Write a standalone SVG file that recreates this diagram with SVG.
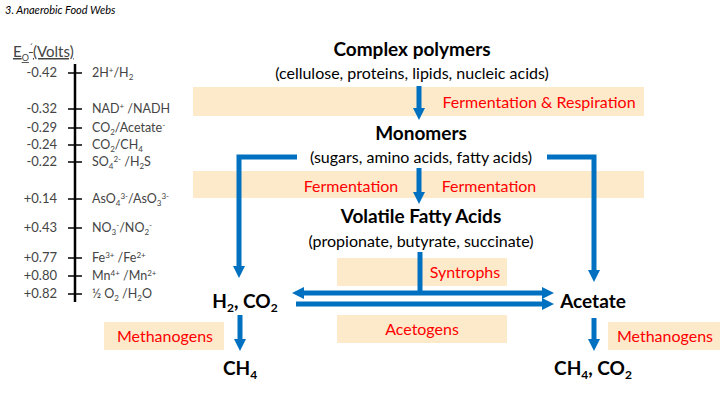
<svg xmlns="http://www.w3.org/2000/svg" width="722" height="407" viewBox="0 0 722 407">
<style>
text{font-family:Lato,"Liberation Sans",sans-serif}
.band{fill:#fdeacb}
.h{font-weight:bold;font-size:19px;text-anchor:middle;fill:#000}
.s{font-size:16px;text-anchor:middle;fill:#000}
.r{font-size:16px;text-anchor:middle;fill:#ff0000}
.v{font-size:13px;text-anchor:end;fill:#444}
.l{font-size:12.5px;fill:#444}
.a{stroke:#0070c0;stroke-width:5;fill:none}
</style>
<defs>
<marker id="ah" viewBox="0 0 10 10" refX="5" refY="5" markerWidth="2.4" markerHeight="2.4" orient="auto-start-reverse"><path d="M0,0L10,5L0,10z" fill="#0070c0"/></marker>
</defs>
<rect width="722" height="407" fill="#fff"/>
<text x="5" y="14" font-size="11" font-style="italic" fill="#000">3.   Anaerobic Food Webs</text>
<g id="bands">
<rect class="band" x="193" y="87" width="451" height="29"/>
<rect class="band" x="193" y="171" width="451" height="27"/>
<rect class="band" x="337" y="258" width="170" height="28"/>
<rect class="band" x="337" y="315" width="170" height="28"/>
<rect class="band" x="104" y="322" width="120" height="28"/>
<rect class="band" x="608" y="322" width="112" height="28"/>
</g>
<g id="scale">
<text x="13" y="57" font-size="15" fill="#444" text-decoration="underline">E<tspan font-size="9" dy="4">O</tspan><tspan dy="-10" font-size="10">´</tspan><tspan dy="6">(Volts)</tspan></text>
<line x1="75" y1="64" x2="75" y2="302" stroke="#000" stroke-width="2.5"/>
<g stroke="#000" stroke-width="1.5">
<line x1="68" y1="73" x2="82" y2="73"/><line x1="68" y1="109" x2="82" y2="109"/><line x1="68" y1="128" x2="82" y2="128"/><line x1="68" y1="145" x2="82" y2="145"/><line x1="68" y1="162" x2="82" y2="162"/><line x1="68" y1="199" x2="82" y2="199"/><line x1="68" y1="228" x2="82" y2="228"/><line x1="68" y1="258" x2="82" y2="258"/><line x1="68" y1="276" x2="82" y2="276"/><line x1="68" y1="294" x2="82" y2="294"/>
</g>
<text class="v" x="57" y="77">-0.42</text><text class="v" x="57" y="113">-0.32</text><text class="v" x="57" y="132">-0.29</text><text class="v" x="57" y="149">-0.24</text><text class="v" x="57" y="166">-0.22</text><text class="v" x="57" y="203">+0.14</text><text class="v" x="57" y="232">+0.43</text><text class="v" x="57" y="262">+0.77</text><text class="v" x="57" y="280">+0.80</text><text class="v" x="57" y="298">+0.82</text>
<text class="l" x="92" y="77">2H<tspan font-size="8" dy="-4">+</tspan><tspan dy="4">/H</tspan><tspan font-size="8" dy="3">2</tspan></text>
<text class="l" x="92" y="113">NAD<tspan font-size="8" dy="-4">+</tspan><tspan dy="4"> /NADH</tspan></text>
<text class="l" x="92" y="132">CO<tspan font-size="8" dy="3">2</tspan><tspan dy="-3">/Acetate</tspan><tspan font-size="8" dy="-4">-</tspan></text>
<text class="l" x="92" y="149">CO<tspan font-size="8" dy="3">2</tspan><tspan dy="-3">/CH</tspan><tspan font-size="8" dy="3">4</tspan></text>
<text class="l" x="92" y="166">SO<tspan font-size="8" dy="3">4</tspan><tspan font-size="8" dy="-7">2-</tspan><tspan dy="4"> /H</tspan><tspan font-size="8" dy="3">2</tspan><tspan dy="-3">S</tspan></text>
<text class="l" x="92" y="203">AsO<tspan font-size="8" dy="3">4</tspan><tspan font-size="8" dy="-7">3-</tspan><tspan dy="4">/AsO</tspan><tspan font-size="8" dy="3">3</tspan><tspan font-size="8" dy="-7">3-</tspan></text>
<text class="l" x="92" y="232">NO<tspan font-size="8" dy="3">3</tspan><tspan font-size="8" dy="-7">-</tspan><tspan dy="4">/NO</tspan><tspan font-size="8" dy="3">2</tspan><tspan font-size="8" dy="-7">-</tspan></text>
<text class="l" x="92" y="262">Fe<tspan font-size="8" dy="-4">3+</tspan><tspan dy="4"> /Fe</tspan><tspan font-size="8" dy="-4">2+</tspan></text>
<text class="l" x="92" y="280">Mn<tspan font-size="8" dy="-4">4+</tspan><tspan dy="4"> /Mn</tspan><tspan font-size="8" dy="-4">2+</tspan></text>
<text class="l" x="92" y="298">½ O<tspan font-size="8" dy="3">2</tspan><tspan dy="-3"> /H</tspan><tspan font-size="8" dy="3">2</tspan><tspan dy="-3">O</tspan></text>
</g>
<g id="connectors">
<line class="a" x1="419" y1="86" x2="419" y2="114" marker-end="url(#ah)"/>
<line class="a" x1="419" y1="168" x2="419" y2="198" marker-end="url(#ah)"/>
<polyline class="a" points="297,157 239,157 239,272" marker-end="url(#ah)"/>
<polyline class="a" points="547,157 594,157 594,276" marker-end="url(#ah)"/>
<line class="a" x1="420" y1="252" x2="420" y2="293"/>
<line class="a" x1="298" y1="293" x2="548" y2="293" marker-start="url(#ah)" marker-end="url(#ah)"/>
<line class="a" x1="296" y1="304" x2="548" y2="304" marker-end="url(#ah)"/>
<line class="a" x1="240" y1="315" x2="240" y2="345" marker-end="url(#ah)"/>
<line class="a" x1="594" y1="318" x2="594" y2="345" marker-end="url(#ah)"/>
</g>
<g id="complex"><text class="h" x="412" y="56">Complex polymers</text><text class="s" x="412" y="79">(cellulose, proteins, lipids, nucleic acids)</text></g>
<g id="monomers"><text class="h" x="421" y="140">Monomers</text><text class="s" x="421" y="163">(sugars, amino acids, fatty acids)</text></g>
<g id="vfa"><text class="h" x="421" y="223">Volatile Fatty Acids</text><text class="s" x="421" y="247">(propionate, butyrate, succinate)</text></g>
<g id="h2co2"><text class="h" x="245" y="308">H<tspan font-size="12" dy="4">2</tspan><tspan dy="-4">, CO</tspan><tspan font-size="12" dy="4">2</tspan></text></g>
<g id="acetate"><text class="h" x="593" y="308">Acetate</text></g>
<g id="ch4"><text class="h" x="240" y="375">CH<tspan font-size="12" dy="4">4</tspan></text></g>
<g id="ch4co2"><text class="h" x="593" y="375">CH<tspan font-size="12" dy="4">4</tspan><tspan dy="-4">, CO</tspan><tspan font-size="12" dy="4">2</tspan></text></g>
<g id="labels">
<text class="r" x="539" y="108">Fermentation &amp; Respiration</text>
<text class="r" x="351" y="192">Fermentation</text>
<text class="r" x="489" y="192">Fermentation</text>
<text class="r" x="465" y="278">Syntrophs</text>
<text class="r" x="422" y="335">Acetogens</text>
<text class="r" x="165" y="342">Methanogens</text>
<text class="r" x="665" y="342">Methanogens</text>
</g>
</svg>
